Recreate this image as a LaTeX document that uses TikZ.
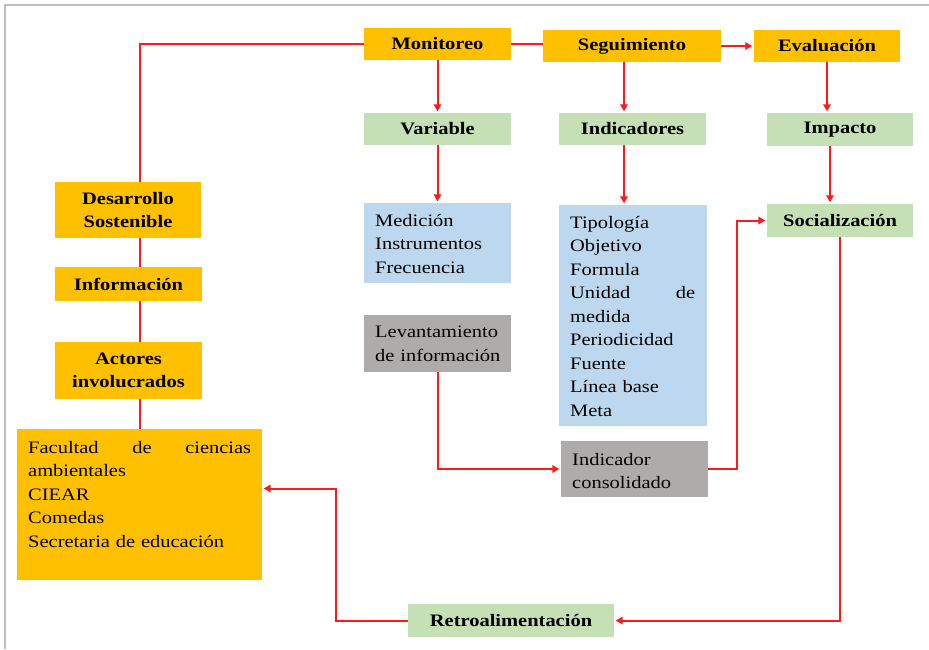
\documentclass[tikz,border=0pt]{standalone}
\usepackage{fontspec}
\setmainfont{Liberation Serif}[FakeStretch=1.17]
\usetikzlibrary{arrows.meta}
\definecolor{boxorange}{HTML}{FFC000}
\definecolor{boxgreen}{HTML}{C5E0B4}
\definecolor{boxblue}{HTML}{BDD7EE}
\definecolor{boxgray}{HTML}{AFABAB}
\definecolor{linered}{HTML}{FF1A1A}
\definecolor{framegray}{HTML}{BFBFBF}
\begin{document}
\begin{tikzpicture}[x=1pt,y=-1pt,
  hbox/.style={inner sep=0pt, align=center, font=\fontsize{17.5}{23}\selectfont\bfseries},
  obox/.style={hbox, fill=boxorange},
  gbox/.style={hbox, fill=boxgreen},
  bbox/.style={inner sep=0pt, fill=boxblue},
  ybox/.style={inner sep=0pt, fill=boxgray},
  pbox/.style={inner sep=0pt, fill=boxorange},
  txt/.style={inner sep=0pt, anchor=north west, align=left, font=\fontsize{17.5}{23.5}\selectfont},
  conn/.style={draw=linered, line width=2pt},
  arr/.style={conn, -{Triangle[length=7pt,width=7.5pt]}, shorten >=1.5pt}]
\useasboundingbox (0,0) rectangle (929,649);
\fill[white] (0,0) rectangle (929,649);
\draw[framegray, line width=1.5pt] (5,649) -- (5,5) -- (929,5);

% top row
\node[obox, minimum width=147pt, minimum height=32pt] (mon) at (437.5,44) {Monitoreo};
\node[obox, minimum width=178pt, minimum height=32pt] (seg) at (632,46) {Seguimiento};
\node[obox, minimum width=146pt, minimum height=32pt] (eva) at (827,46) {Evaluación};
% second row
\node[gbox, minimum width=147pt, minimum height=32pt] (var) at (437.5,129) {Variable};
\node[gbox, minimum width=147pt, minimum height=32pt] (ind) at (632.5,129) {Indicadores};
\node[gbox, minimum width=146pt, minimum height=33pt] (imp) at (840,129.5) {Impacto};
\node[gbox, minimum width=146pt, minimum height=33pt] (soc) at (840,220.5) {Socialización};
% detail boxes
\node[bbox, minimum width=147pt, minimum height=80pt] (med) at (437.5,243) {};
\node[txt, text width=130pt] (medT) at (375,214) {Medición\\Instrumentos\\Frecuencia};
\node[ybox, minimum width=147pt, minimum height=57pt] (lev) at (437.5,343.5) {};
\node[txt, text width=135pt] (levT) at (375,326) {Levantamiento\\de información};
\node[bbox, minimum width=148pt, minimum height=221pt] (tip) at (633,315.5) {};
\node[txt, text width=130pt] (tipT) at (570,216) {Tipología\\Objetivo\\Formula\\\makebox[125pt][l]{Unidad\hfill de}\\medida\\Periodicidad\\Fuente\\Línea base\\Meta};
\node[ybox, minimum width=147pt, minimum height=56pt] (icon) at (634.5,469) {};
\node[txt, text width=130pt] (iconT) at (572,453) {Indicador\\consolidado};
% left column
\node[obox, minimum width=146pt, minimum height=56pt] (des) at (128,210) {Desarrollo\\Sostenible};
\node[obox, minimum width=147pt, minimum height=34pt] (inf) at (128.5,284) {Información};
\node[obox, minimum width=147pt, minimum height=57pt] (act) at (128.5,370.5) {Actores\\involucrados};
\node[pbox, minimum width=245pt, minimum height=151pt] (fac) at (139.5,504.5) {};
\node[txt, text width=223pt] (facT) at (28,441) {\makebox[223pt][l]{Facultad\hfill de\hfill ciencias}\\ambientales\\CIEAR\\Comedas\\Secretaria de educación};
% bottom
\node[gbox, minimum width=206pt, minimum height=33pt] (ret) at (511,620.5) {Retroalimentación};

% connectors
\draw[conn] (mon.west) -| ([xshift=12pt]des.north);
\draw[conn] (mon.east) -- (mon.east -| seg.west);
\draw[arr] (seg.east) -- (eva.west);
\draw[arr] (mon.south) -- (var.north);
\draw[arr] ([xshift=-8pt]seg.south) -- ([xshift=-8pt]seg.south |- ind.north);
\draw[arr] (eva.south) -- (eva.south |- imp.north);
\draw[arr] (var.south) -- (med.north);
\draw[arr] ([xshift=-8.5pt]ind.south) -- ([xshift=-8.5pt]ind.south |- tip.north);
\draw[arr] ([xshift=-10pt]imp.south) -- ([xshift=-10pt]soc.north);
\draw[arr] (lev.south) |- (icon.west);
\draw[arr] (icon.east) -- ++(29,0) |- (soc.west);
\draw[arr] (soc.south) |- (ret.east);
\draw[arr] (ret.west) -- ++(-72,0) |- ([yshift=16pt]fac.east);
\draw[conn] ([xshift=12pt]des.south) -- ([xshift=11.5pt]inf.north);
\draw[conn] ([xshift=11.5pt]inf.south) -- ([xshift=11.5pt]act.north);
\draw[conn] ([xshift=11.5pt]act.south) -- ([xshift=11.5pt]act.south |- fac.north);
\end{tikzpicture}
\end{document}
